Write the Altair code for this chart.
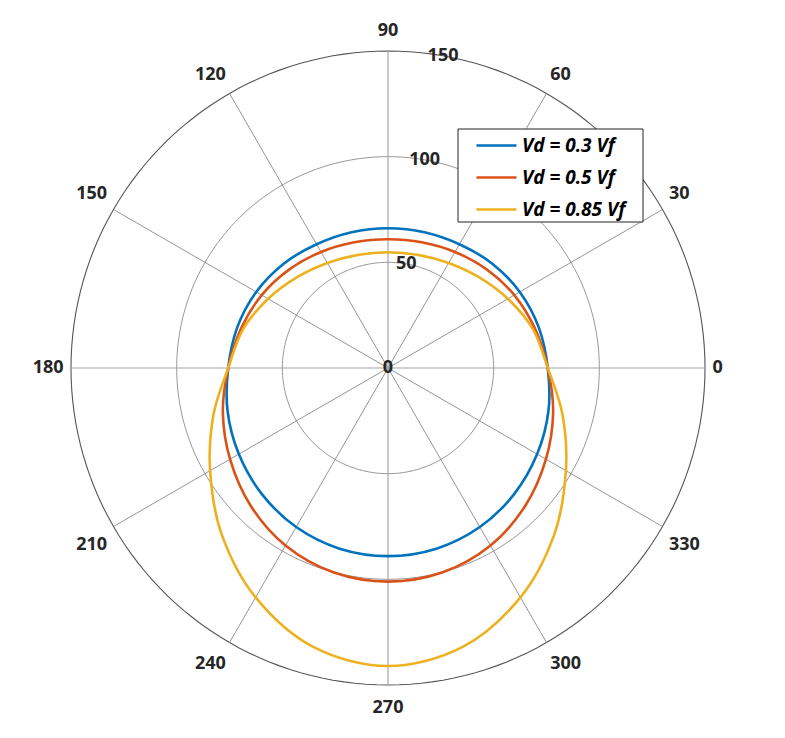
import altair as alt
import pandas as pd

# ---- data (radius per 15° step, angles in degrees) ----
angles = [0, 15, 30, 45, 60, 75, 90, 105, 120, 135, 150, 165,
          180, 195, 210, 225, 240, 255, 270, 285, 300, 315, 330, 345]
r_03 = [75.6, 73.9, 72.0, 69.8, 67.6, 66.5, 66.1, 66.5, 67.6, 69.8, 72.0, 73.9,
        75.6, 78.6, 81.5, 84.4, 86.9, 88.5, 89.0, 88.5, 86.9, 84.4, 81.5, 78.6]
r_05 = [75.6, 72.0, 69.0, 66.0, 63.4, 61.6, 60.9, 61.6, 63.4, 66.0, 69.0, 72.0,
        75.6, 80.9, 86.3, 92.0, 97.0, 100.1, 101.1, 100.1, 97.0, 92.0, 86.3, 80.9]
r_085 = [75.6, 71.0, 65.5, 60.8, 57.4, 55.4, 54.8, 55.4, 57.4, 60.8, 65.5, 71.0,
         75.6, 85.5, 97.2, 111.3, 125.3, 136.6, 141.0, 136.6, 125.3, 111.3, 97.2, 85.5]
series_names = ["Vd = 0.3 Vf", "Vd = 0.5 Vf", "Vd = 0.85 Vf"]
series_colors = ["#0072BD", "#D95319", "#EDB120"]

ring_values = [50, 100, 150]
spoke_angles = [0, 30, 60, 90, 120, 150, 180, 210, 240, 270, 300, 330]
angle_labels = ["0", "30", "60", "90", "120", "150", "180", "210", "240", "270", "300", "330"]
radial_ticks = [0, 50, 100, 150]
radial_labels = ["0", "50", "100", "150"]
R_MAX = 150

# ---- tables ----
curves = pd.DataFrame(
    [{"series": s, "angle": a, "r": r}
     for s, rs in zip(series_names, [r_03, r_05, r_085])
     for a, r in zip(angles, rs)]
)
rings = pd.DataFrame([{"ring": rv, "a": a} for rv in ring_values for a in range(0, 361, 2)])
spokes = pd.DataFrame({"angle": spoke_angles})
alabels = pd.DataFrame({"angle": spoke_angles, "label": angle_labels})
rlabels = pd.DataFrame({"r": radial_ticks, "label": radial_labels})

xs = alt.Scale(domain=[-R_MAX, R_MAX], nice=False, zero=False)
ys = alt.Scale(domain=[-R_MAX, R_MAX], nice=False, zero=False)
X = lambda f: alt.X(f, type="quantitative", scale=xs, axis=None)
Y = lambda f: alt.Y(f, type="quantitative", scale=ys, axis=None)

ring_base = alt.Chart(rings).transform_calculate(
    x="datum.ring*cos(datum.a*PI/180)", y="datum.ring*sin(datum.a*PI/180)"
)
inner_rings = ring_base.transform_filter(f"datum.ring < {R_MAX}").mark_line(
    color="#8c8c8c", strokeWidth=0.9
).encode(x=X("x"), y=Y("y"), detail="ring:N", order="a:Q")
outer_ring = ring_base.transform_filter(f"datum.ring == {R_MAX}").mark_line(
    color="#555555", strokeWidth=1.1
).encode(x=X("x"), y=Y("y"), order="a:Q")

spoke_base = alt.Chart(spokes).transform_calculate(
    x0="0", y0="0",
    x1=f"{R_MAX}*cos(datum.angle*PI/180)", y1=f"{R_MAX}*sin(datum.angle*PI/180)"
)
diag_spokes = spoke_base.transform_filter("datum.angle % 90 != 0").mark_rule(
    color="#7a7a7a", strokeWidth=0.8
).encode(x=X("x0"), y=Y("y0"), x2="x1:Q", y2="y1:Q")
axis_spokes = spoke_base.transform_filter("datum.angle % 90 == 0").mark_rule(
    color="#a6a6a6", strokeWidth=1.2
).encode(x=X("x0"), y=Y("y0"), x2="x1:Q", y2="y1:Q")

lines = alt.Chart(curves).transform_calculate(
    x="datum.r*cos(datum.angle*PI/180)", y="datum.r*sin(datum.angle*PI/180)"
).mark_line(strokeWidth=2.6, interpolate="cardinal-closed").encode(
    x=X("x"), y=Y("y"), order="angle:Q",
    color=alt.Color(
        "series:N",
        scale=alt.Scale(domain=series_names, range=series_colors),
        legend=alt.Legend(
            title=None, orient="none", legendX=387, legendY=73,
            symbolType="stroke", symbolSize=1600, symbolStrokeWidth=2.6,
            labelFont="Open Sans", labelFontSize=19, labelFontWeight="bold",
            labelFontStyle="italic", labelColor="black", labelLimit=400,
            padding=0, symbolOffset=17, labelOffset=4, rowPadding=0,
        ),
    ),
)

# white framed box behind the legend entries
legend_frame = alt.Chart(pd.DataFrame({"k": [0]})).mark_rect(
    fill="white", stroke="#222222", strokeWidth=1
).encode(x=alt.value(387), x2=alt.value(572), y=alt.value(78), y2=alt.value(171))

# angle labels: anchored just outside the outer ring, pushed away from it
# by half the label's width (horizontally) and a fixed amount (vertically)
angle_text = alt.Chart(alabels).transform_calculate(
    c="cos(datum.angle*PI/180)", s="sin(datum.angle*PI/180)",
).transform_calculate(
    x="153.5*datum.c + (datum.c > 0.01 ? 1 : datum.c < -0.01 ? -1 : 0) * 2.44*length(datum.label)",
    y="154*datum.s + (datum.s > 0.01 ? 5.4 : datum.s < -0.01 ? -6.8 : 0)",
).mark_text(
    font="Open Sans", fontSize=18, fontWeight="bold", color="#262626",
    align="center", baseline="middle"
).encode(x=X("x"), y=Y("y"), text="label:N")

radial_text = alt.Chart(rlabels).transform_calculate(
    x="datum.r*cos(80*PI/180)", y="datum.r*sin(80*PI/180)"
).mark_text(
    font="Open Sans", fontSize=18, fontWeight="bold", color="#262626",
    align="center", baseline="middle"
).encode(x=X("x"), y=Y("y"), text="label:N")

chart = alt.layer(
    inner_rings, outer_ring, diag_spokes, axis_spokes, lines, radial_text,
    angle_text, legend_frame
).properties(
    width=634, height=634,
    autosize=alt.AutoSizeParams(type="none"),
    padding={"left": 63, "top": 43, "right": 70, "bottom": 44},
).configure_view(stroke=None)

chart.save("out.html", embed_options={"renderer": "svg", "actions": False})
